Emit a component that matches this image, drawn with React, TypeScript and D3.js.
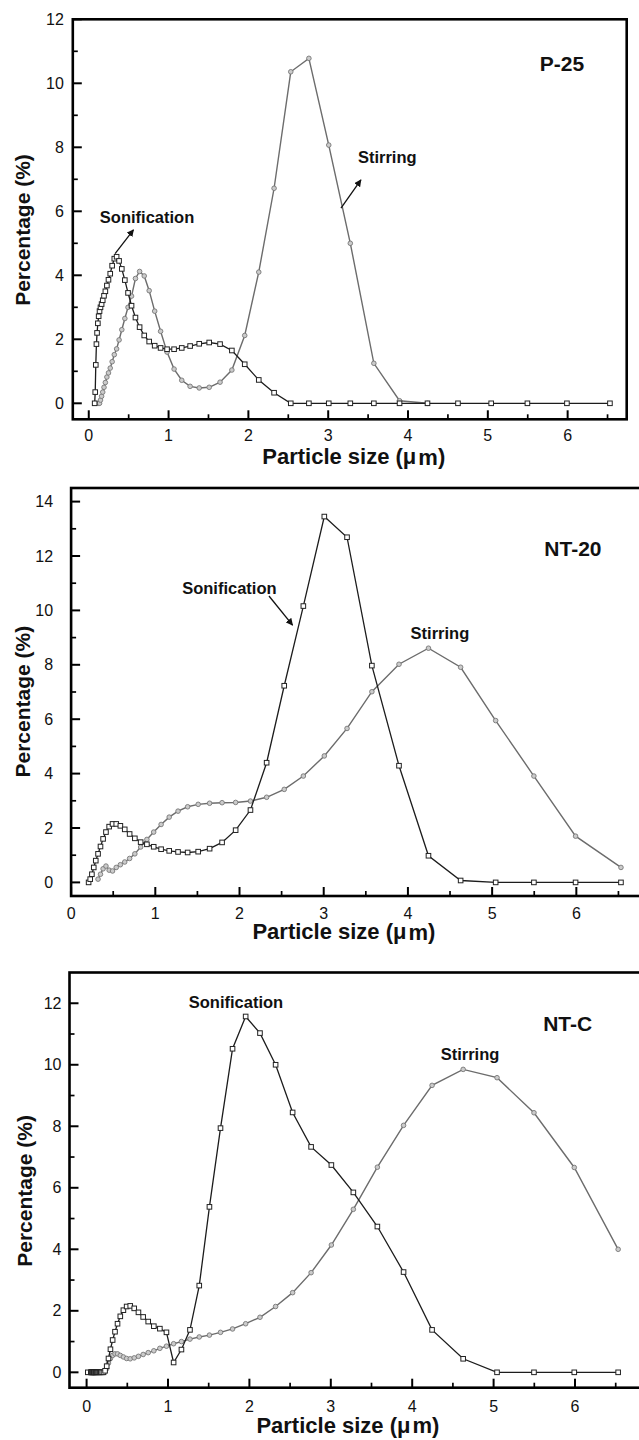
import React from "react";
import * as d3 from "d3";

// Particle-size bins (µm) shared by every distribution
const SIZE_BINS = [
  0.015, 0.052, 0.057, 0.062, 0.068, 0.074, 0.081, 0.088, 0.096, 0.104,
  0.114, 0.124, 0.135, 0.147, 0.161, 0.175, 0.191, 0.208, 0.227, 0.247,
  0.269, 0.293, 0.32, 0.349, 0.38, 0.414, 0.452, 0.492, 0.536, 0.585,
  0.637, 0.695, 0.757, 0.826, 0.9, 0.981, 1.069, 1.165, 1.27, 1.384,
  1.509, 1.645, 1.793, 1.954, 2.13, 2.322, 2.531, 2.758, 3.007, 3.277,
  3.572, 3.894, 4.244, 4.626, 5.042, 5.496, 5.991, 6.53,
];

// P-25
const P25_SONIFICATION_FROM = 0.074;
const P25_SONIFICATION = [
  0, 0.35, 1.2, 1.85, 2.2, 2.5, 2.72, 2.88, 3.0, 3.1,
  3.22, 3.36, 3.5, 3.68, 3.86, 4.05, 4.3, 4.52, 4.58, 4.45,
  4.2, 3.85, 3.45, 3.05, 2.68, 2.38, 2.12, 1.93, 1.8, 1.73,
  1.69, 1.69, 1.73, 1.79, 1.86, 1.9, 1.85, 1.65, 1.22, 0.73,
  0.33, 0, 0, 0, 0, 0, 0, 0, 0, 0, 0, 0, 0,
];
const P25_STIRRING_FROM = 0.124;
const P25_STIRRING = [
  0, 0, 0.1, 0.22, 0.35, 0.5, 0.65, 0.82, 0.95, 1.1,
  1.3, 1.52, 1.7, 1.98, 2.3, 2.65, 3.0, 3.35, 3.9, 4.12,
  3.98, 3.52, 2.88, 2.25, 1.6, 1.07, 0.72, 0.53, 0.48, 0.5,
  0.66, 1.04, 2.12, 4.1, 6.72, 10.36, 10.78, 8.07, 5.0, 1.25,
  0.08, 0,
];

// NT-20
const NT20_SONIFICATION_FROM = 0.208;
const NT20_SONIFICATION = [
  0, 0.12, 0.3, 0.55, 0.8, 1.05, 1.32, 1.6, 1.85, 2.05,
  2.15, 2.15, 2.08, 1.95, 1.78, 1.62, 1.48, 1.4, 1.31, 1.22,
  1.16, 1.12, 1.1, 1.13, 1.24, 1.47, 1.92, 2.66, 4.4, 7.23,
  10.16, 13.45, 12.69, 7.97, 4.29, 0.98, 0.07, 0, 0, 0, 0,
];
const NT20_STIRRING_FROM = 0.32;
const NT20_STIRRING = [
  0.12, 0.3, 0.5, 0.6, 0.45, 0.42, 0.55, 0.65, 0.75, 0.88,
  1.05, 1.3, 1.58, 1.85, 2.13, 2.4, 2.62, 2.78, 2.87, 2.91,
  2.93, 2.94, 2.99, 3.13, 3.42, 3.91, 4.65, 5.66, 7.01, 8.02,
  8.61, 7.91, 5.95, 3.91, 1.7, 0.55,
];

// NT-C
const NTC_SONIFICATION_FROM = 0.015;
const NTC_SONIFICATION = [
  0, 0, 0, 0, 0, 0, 0, 0, 0, 0,
  0, 0, 0, 0, 0, 0, 0, 0, 0.05, 0.2,
  0.45, 0.75, 1.05, 1.32, 1.58, 1.82, 2.02, 2.14, 2.16, 2.08,
  1.95, 1.8, 1.65, 1.5, 1.42, 1.3, 0.32, 0.74, 1.38, 2.82,
  5.38, 7.94, 10.52, 11.57, 11.03, 10.0, 8.45, 7.33, 6.74, 5.85,
  4.74, 3.26, 1.38, 0.44, 0, 0, 0, 0,
];
const NTC_STIRRING_FROM = 0.247;
const NTC_STIRRING = [
  0.12, 0.3, 0.45, 0.55, 0.6, 0.6, 0.55, 0.5, 0.45, 0.44,
  0.47, 0.52, 0.58, 0.64, 0.7, 0.78, 0.85, 0.93, 1.0, 1.08,
  1.15, 1.21, 1.3, 1.41, 1.58, 1.79, 2.14, 2.59, 3.24, 4.14,
  5.3, 6.67, 8.03, 9.33, 9.85, 9.58, 8.44, 6.66, 4.0,
];

// Tick labels
const X_TICKS = [0, 1, 2, 3, 4, 5, 6];
const Y_TICKS_P25 = [0, 2, 4, 6, 8, 10, 12];
const Y_TICKS_NT20 = [0, 2, 4, 6, 8, 10, 12, 14];
const Y_TICKS_NTC = [0, 2, 4, 6, 8, 10, 12];

const SERIES_NAMES = ["Sonification", "Stirring"];

type Pt = [number, number];

function toPoints(from: number, values: number[]): Pt[] {
  const i0 = SIZE_BINS.indexOf(from);
  return values
    .map((v, i) => [SIZE_BINS[i0 + i], v] as Pt)
    .filter((p) => p[0] !== undefined);
}

type Note = { text: string; x: number; y: number; size: number };
type Arrow = { x1: number; y1: number; x2: number; y2: number };

type Panel = {
  name: string;
  frame: { left: number; right: number; top: number; bottom: number };
  xDomain: [number, number];
  yDomain: [number, number];
  yTicks: number[];
  yLabelGap: number;
  xLabelDy: number;
  xTitleDy: number;
  xTitleAt: number;
  yTitleX: number;
  yTitleDy: number;
  sonic: Pt[];
  stir: Pt[];
  notes: Note[];
  arrows: Arrow[];
};

const PANELS: Panel[] = [
  {
    name: "P-25",
    frame: { left: 72.8, right: 626.7, top: 19.3, bottom: 419.3 },
    xDomain: [-0.2, 6.74],
    yDomain: [-0.5, 12],
    yTicks: Y_TICKS_P25,
    yLabelGap: 9,
    xLabelDy: 16.5,
    xTitleDy: 37.4,
    xTitleAt: 3.32,
    yTitleX: 22.4,
    yTitleDy: 10.7,
    sonic: toPoints(P25_SONIFICATION_FROM, P25_SONIFICATION),
    stir: toPoints(P25_STIRRING_FROM, P25_STIRRING),
    notes: [
      { text: "P-25", x: 5.93, y: 10.63, size: 21 },
      { text: SERIES_NAMES[0], x: 0.73, y: 5.83, size: 16.5 },
      { text: SERIES_NAMES[1], x: 3.74, y: 7.7, size: 16.5 },
    ],
    arrows: [
      { x1: 0.33, y1: 4.68, x2: 0.56, y2: 5.42 },
      { x1: 3.16, y1: 6.1, x2: 3.41, y2: 6.98 },
    ],
  },
  {
    name: "NT-20",
    frame: { left: 71.1, right: 643.7, top: 488.0, bottom: 896.0 },
    xDomain: [0, 6.8],
    yDomain: [-0.5, 14.5],
    yTicks: Y_TICKS_NT20,
    yLabelGap: 18,
    xLabelDy: 17.3,
    xTitleDy: 35.7,
    xTitleAt: 3.24,
    yTitleX: 22.4,
    yTitleDy: 9.7,
    sonic: toPoints(NT20_SONIFICATION_FROM, NT20_SONIFICATION),
    stir: toPoints(NT20_STIRRING_FROM, NT20_STIRRING),
    notes: [
      { text: "NT-20", x: 5.96, y: 12.28, size: 21 },
      { text: SERIES_NAMES[0], x: 1.88, y: 10.82, size: 16.5 },
      { text: SERIES_NAMES[1], x: 4.38, y: 9.17, size: 16.5 },
    ],
    arrows: [{ x1: 2.35, y1: 10.53, x2: 2.63, y2: 9.46 }],
  },
  {
    name: "NT-C",
    frame: { left: 69.5, right: 644.2, top: 972.5, bottom: 1387.7 },
    xDomain: [-0.21, 6.85],
    yDomain: [-0.5, 13],
    yTicks: Y_TICKS_NTC,
    yLabelGap: 8,
    xLabelDy: 19,
    xTitleDy: 37.3,
    xTitleAt: 3.21,
    yTitleX: 24.5,
    yTitleDy: 10.8,
    sonic: toPoints(NTC_SONIFICATION_FROM, NTC_SONIFICATION),
    stir: toPoints(NTC_STIRRING_FROM, NTC_STIRRING),
    notes: [
      { text: "NT-C", x: 5.91, y: 11.35, size: 21 },
      { text: SERIES_NAMES[0], x: 1.835, y: 12.05, size: 16.5 },
      { text: SERIES_NAMES[1], x: 4.71, y: 10.34, size: 16.5 },
    ],
    arrows: [],
  },
];

const FONT = "'Liberation Sans', Arial, Helvetica, sans-serif";
const SONIC_COLOR = "#1c1c1c";
const STIR_COLOR = "#6c6c6c";

function PanelView({ p }: { p: Panel }) {
  const { frame } = p;
  const x = d3.scaleLinear().domain(p.xDomain).range([frame.left, frame.right]);
  const y = d3.scaleLinear().domain(p.yDomain).range([frame.bottom, frame.top]);
  const line = d3
    .line<Pt>()
    .x((d) => x(d[0]))
    .y((d) => y(d[1]));

  const xMinor = d3.range(0.5, p.xDomain[1], 1);
  const yMinor = d3.range(1, p.yDomain[1], 2);
  const sq = 4.6;

  return (
    <g>
      {/* stirring curve */}
      <path d={line(p.stir) || ""} fill="none" stroke={STIR_COLOR} strokeWidth={1.4} />
      {p.stir.map((d, i) => (
        <circle
          key={"c" + i}
          cx={x(d[0])}
          cy={y(d[1])}
          r={2.3}
          fill="#cbcbcb"
          stroke="#777"
          strokeWidth={0.9}
        />
      ))}
      {/* sonification curve */}
      <path d={line(p.sonic) || ""} fill="none" stroke={SONIC_COLOR} strokeWidth={1.3} />
      {p.sonic.map((d, i) => (
        <rect
          key={"s" + i}
          x={x(d[0]) - sq / 2}
          y={y(d[1]) - sq / 2}
          width={sq}
          height={sq}
          fill="#fff"
          stroke="#222"
          strokeWidth={1}
        />
      ))}

      {/* frame */}
      <rect
        x={frame.left}
        y={frame.top}
        width={frame.right - frame.left}
        height={frame.bottom - frame.top}
        fill="none"
        stroke="#000"
        strokeWidth={2.6}
      />

      {/* x ticks */}
      {X_TICKS.map((t) => (
        <g key={"xt" + t}>
          <line x1={x(t)} x2={x(t)} y1={frame.bottom} y2={frame.bottom - 9} stroke="#000" strokeWidth={2} />
          <text
            x={x(t)}
            y={frame.bottom + p.xLabelDy}
            textAnchor="middle"
            dominantBaseline="central"
            fontFamily={FONT}
            fontSize={16}
            fill="#111"
          >
            {t}
          </text>
        </g>
      ))}
      {xMinor.map((t) => (
        <line key={"xm" + t} x1={x(t)} x2={x(t)} y1={frame.bottom} y2={frame.bottom - 5} stroke="#000" strokeWidth={1.7} />
      ))}

      {/* y ticks */}
      {p.yTicks.map((t) => (
        <g key={"yt" + t}>
          <line x1={frame.left} x2={frame.left + 9} y1={y(t)} y2={y(t)} stroke="#000" strokeWidth={2} />
          <text
            x={frame.left - p.yLabelGap}
            y={y(t)}
            textAnchor="end"
            dominantBaseline="central"
            fontFamily={FONT}
            fontSize={16}
            fill="#111"
          >
            {t}
          </text>
        </g>
      ))}
      {yMinor.map((t) => (
        <line key={"ym" + t} x1={frame.left} x2={frame.left + 5} y1={y(t)} y2={y(t)} stroke="#000" strokeWidth={1.7} />
      ))}

      {/* axis titles */}
      <text
        x={x(p.xTitleAt)}
        y={frame.bottom + p.xTitleDy}
        textAnchor="middle"
        dominantBaseline="central"
        fontFamily={FONT}
        fontWeight="bold"
        fontSize={22}
        fill="#111"
      >
        Particle size (μ<tspan dx={2}>m</tspan>)
      </text>
      <text
        transform={`translate(${p.yTitleX},${(frame.top + frame.bottom) / 2 + p.yTitleDy}) rotate(-90)`}
        textAnchor="middle"
        dominantBaseline="central"
        fontFamily={FONT}
        fontWeight="bold"
        fontSize={21}
        fill="#111"
      >
        Percentage (%)
      </text>

      {/* annotations */}
      {p.notes.map((n) => (
        <text
          key={n.text}
          x={x(n.x)}
          y={y(n.y)}
          textAnchor="middle"
          dominantBaseline="central"
          fontFamily={FONT}
          fontWeight="bold"
          fontSize={n.size}
          fill="#111"
        >
          {n.text}
        </text>
      ))}
      {p.arrows.map((a, i) => (
        <line
          key={"a" + i}
          x1={x(a.x1)}
          y1={y(a.y1)}
          x2={x(a.x2)}
          y2={y(a.y2)}
          stroke="#111"
          strokeWidth={1.3}
          markerEnd="url(#arrowHead)"
        />
      ))}
    </g>
  );
}

export default function App() {
  return (
    <div style={{ position: "absolute", left: 0, top: 0, width: 639, height: 1440, background: "#fff" }}>
      <svg width={639} height={1440} style={{ display: "block" }}>
        <defs>
          <marker
            id="arrowHead"
            viewBox="0 0 10 10"
            refX={9}
            refY={5}
            markerWidth={5.5}
            markerHeight={5.5}
            orient="auto"
          >
            <path d="M0,0 L10,5 L0,10 z" fill="#111" />
          </marker>
        </defs>
        <rect width={639} height={1440} fill="#fff" />
        {PANELS.map((p) => (
          <PanelView key={p.name} p={p} />
        ))}
      </svg>
    </div>
  );
}
